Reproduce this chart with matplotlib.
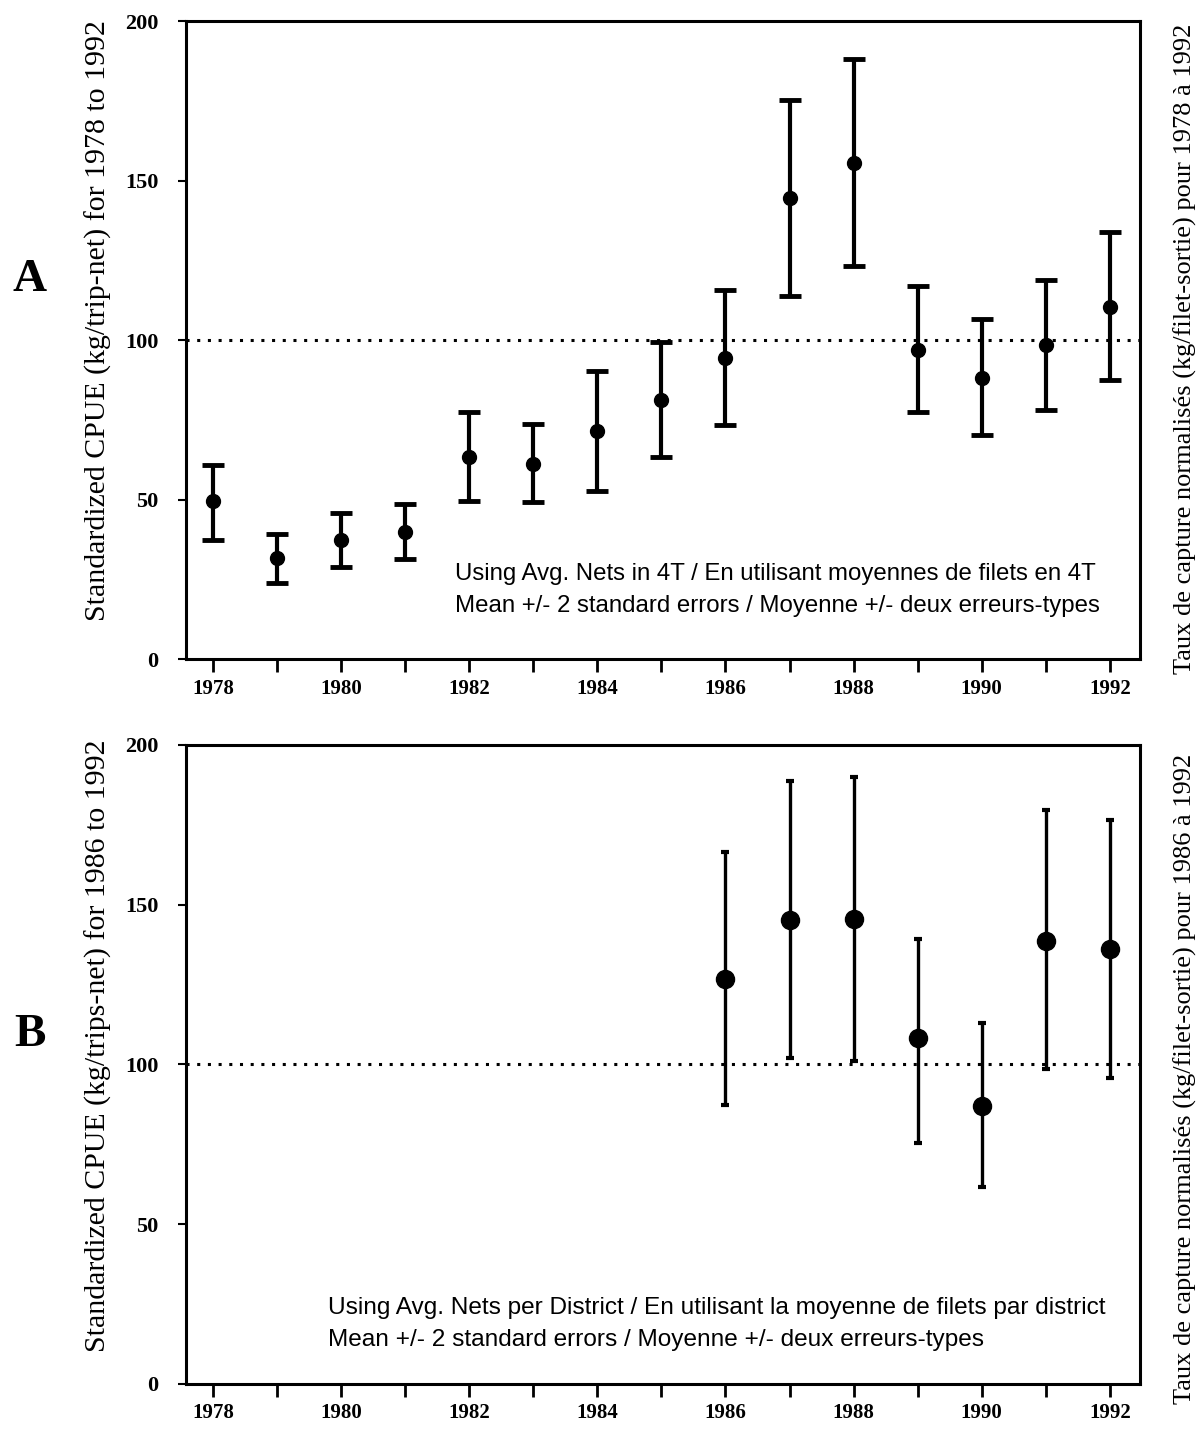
import matplotlib.pyplot as plt
import numpy as np

# panel A: all years, avg nets in 4T
years_a = [1978, 1979, 1980, 1981, 1982, 1983, 1984, 1985, 1986, 1987, 1988, 1989, 1990, 1991, 1992]
mean_a = [49.4, 31.8, 37.3, 39.9, 63.5, 61.3, 71.4, 81.3, 94.4, 144.6, 155.5, 96.9, 88.2, 98.6, 110.4]
upper_a = [60.9, 39.1, 45.9, 48.5, 77.6, 73.8, 90.3, 99.5, 115.7, 175.4, 188.0, 116.8, 106.7, 118.8, 133.8]
lower_a = [37.3, 24.0, 28.9, 31.3, 49.5, 49.1, 52.6, 63.2, 73.4, 113.9, 123.1, 77.3, 70.1, 78.2, 87.6]

# panel B: 1986-1992, avg nets per district
years_b = [1986, 1987, 1988, 1989, 1990, 1991, 1992]
mean_b = [126.9, 145.2, 145.5, 108.2, 87.0, 138.7, 136.1]
upper_b = [166.4, 188.8, 189.9, 139.3, 112.9, 179.7, 176.5]
lower_b = [87.3, 102.1, 101.0, 75.3, 61.6, 98.6, 95.7]

all_years = np.arange(1978, 1993)
serif = ['Liberation Serif', 'DejaVu Serif']
sans = ['Liberation Sans Narrow', 'Liberation Sans', 'DejaVu Sans']

fig = plt.figure(figsize=(12.01, 14.34), dpi=100)
ax_a = fig.add_axes([0.1549, 0.5404, 0.7943, 0.4449])
ax_b = fig.add_axes([0.1549, 0.0349, 0.7943, 0.4456])


def style_axis(ax, left_label, right_label, right_y):
    ax.set_xlim(1977.58, 1992.47)
    ax.set_ylim(0, 200)
    for s in ax.spines.values():
        s.set_linewidth(2.2)
    ax.set_xticks(all_years)
    ax.set_xticklabels([str(y) if y % 2 == 0 else '' for y in all_years],
                       family=serif, fontweight='bold', fontsize=15)
    ax.set_yticks([0, 50, 100, 150, 200])
    ax.set_yticklabels(['0', '50', '100', '150', '200'],
                       family=serif, fontweight='bold', fontsize=16)
    ax.tick_params(axis='x', direction='out', length=9, width=2, pad=5)
    ax.tick_params(axis='y', direction='out', length=6, width=1.5, pad=14)
    ax.axhline(100, color='black', lw=2.2, ls=(0, (1, 2.5)))
    ax.set_ylabel(left_label, family=serif, fontsize=21.5)
    ax.yaxis.set_label_coords(-0.078, 0.53)
    ax.text(1.048, right_y, right_label, transform=ax.transAxes, rotation=90,
            ha='center', va='center', family=serif, fontsize=19)


style_axis(ax_a, 'Standardized CPUE (kg/trip-net) for 1978 to 1992',
           'Taux de capture normalisés (kg/filet-sortie) pour 1978 à 1992', 0.486)
style_axis(ax_b, 'Standardized CPUE (kg/trips-net) for 1986 to 1992',
           'Taux de capture normalisés (kg/filet-sortie) pour 1986 à 1992', 0.477)

err_a = [np.subtract(mean_a, lower_a), np.subtract(upper_a, mean_a)]
ax_a.errorbar(years_a, mean_a, yerr=err_a, fmt='o', color='black', ms=10,
              elinewidth=3, capsize=8, capthick=3.5)

err_b = [np.subtract(mean_b, lower_b), np.subtract(upper_b, mean_b)]
ax_b.errorbar(years_b, mean_b, yerr=err_b, fmt='o', color='black', ms=13,
              elinewidth=2.4, capsize=3, capthick=3)

ax_a.text(0.282, 0.108, 'Using Avg. Nets in 4T / En utilisant moyennes de filets en 4T\n'
          'Mean +/- 2 standard errors / Moyenne +/- deux erreurs-types',
          transform=ax_a.transAxes, family=sans, fontsize=17.3, linespacing=1.55,
          ha='left', va='center')
ax_b.text(0.149, 0.094, 'Using Avg. Nets per District / En utilisant la moyenne de filets par district\n'
          'Mean +/- 2 standard errors / Moyenne +/- deux erreurs-types',
          transform=ax_b.transAxes, family=sans, fontsize=17.6, linespacing=1.55,
          ha='left', va='center')

fig.text(0.025, 0.805, 'A', family=serif, fontweight='bold', fontsize=34, ha='center', va='center')
fig.text(0.025, 0.278, 'B', family=serif, fontweight='bold', fontsize=34, ha='center', va='center')

fig.savefig('out.png', dpi=100)
